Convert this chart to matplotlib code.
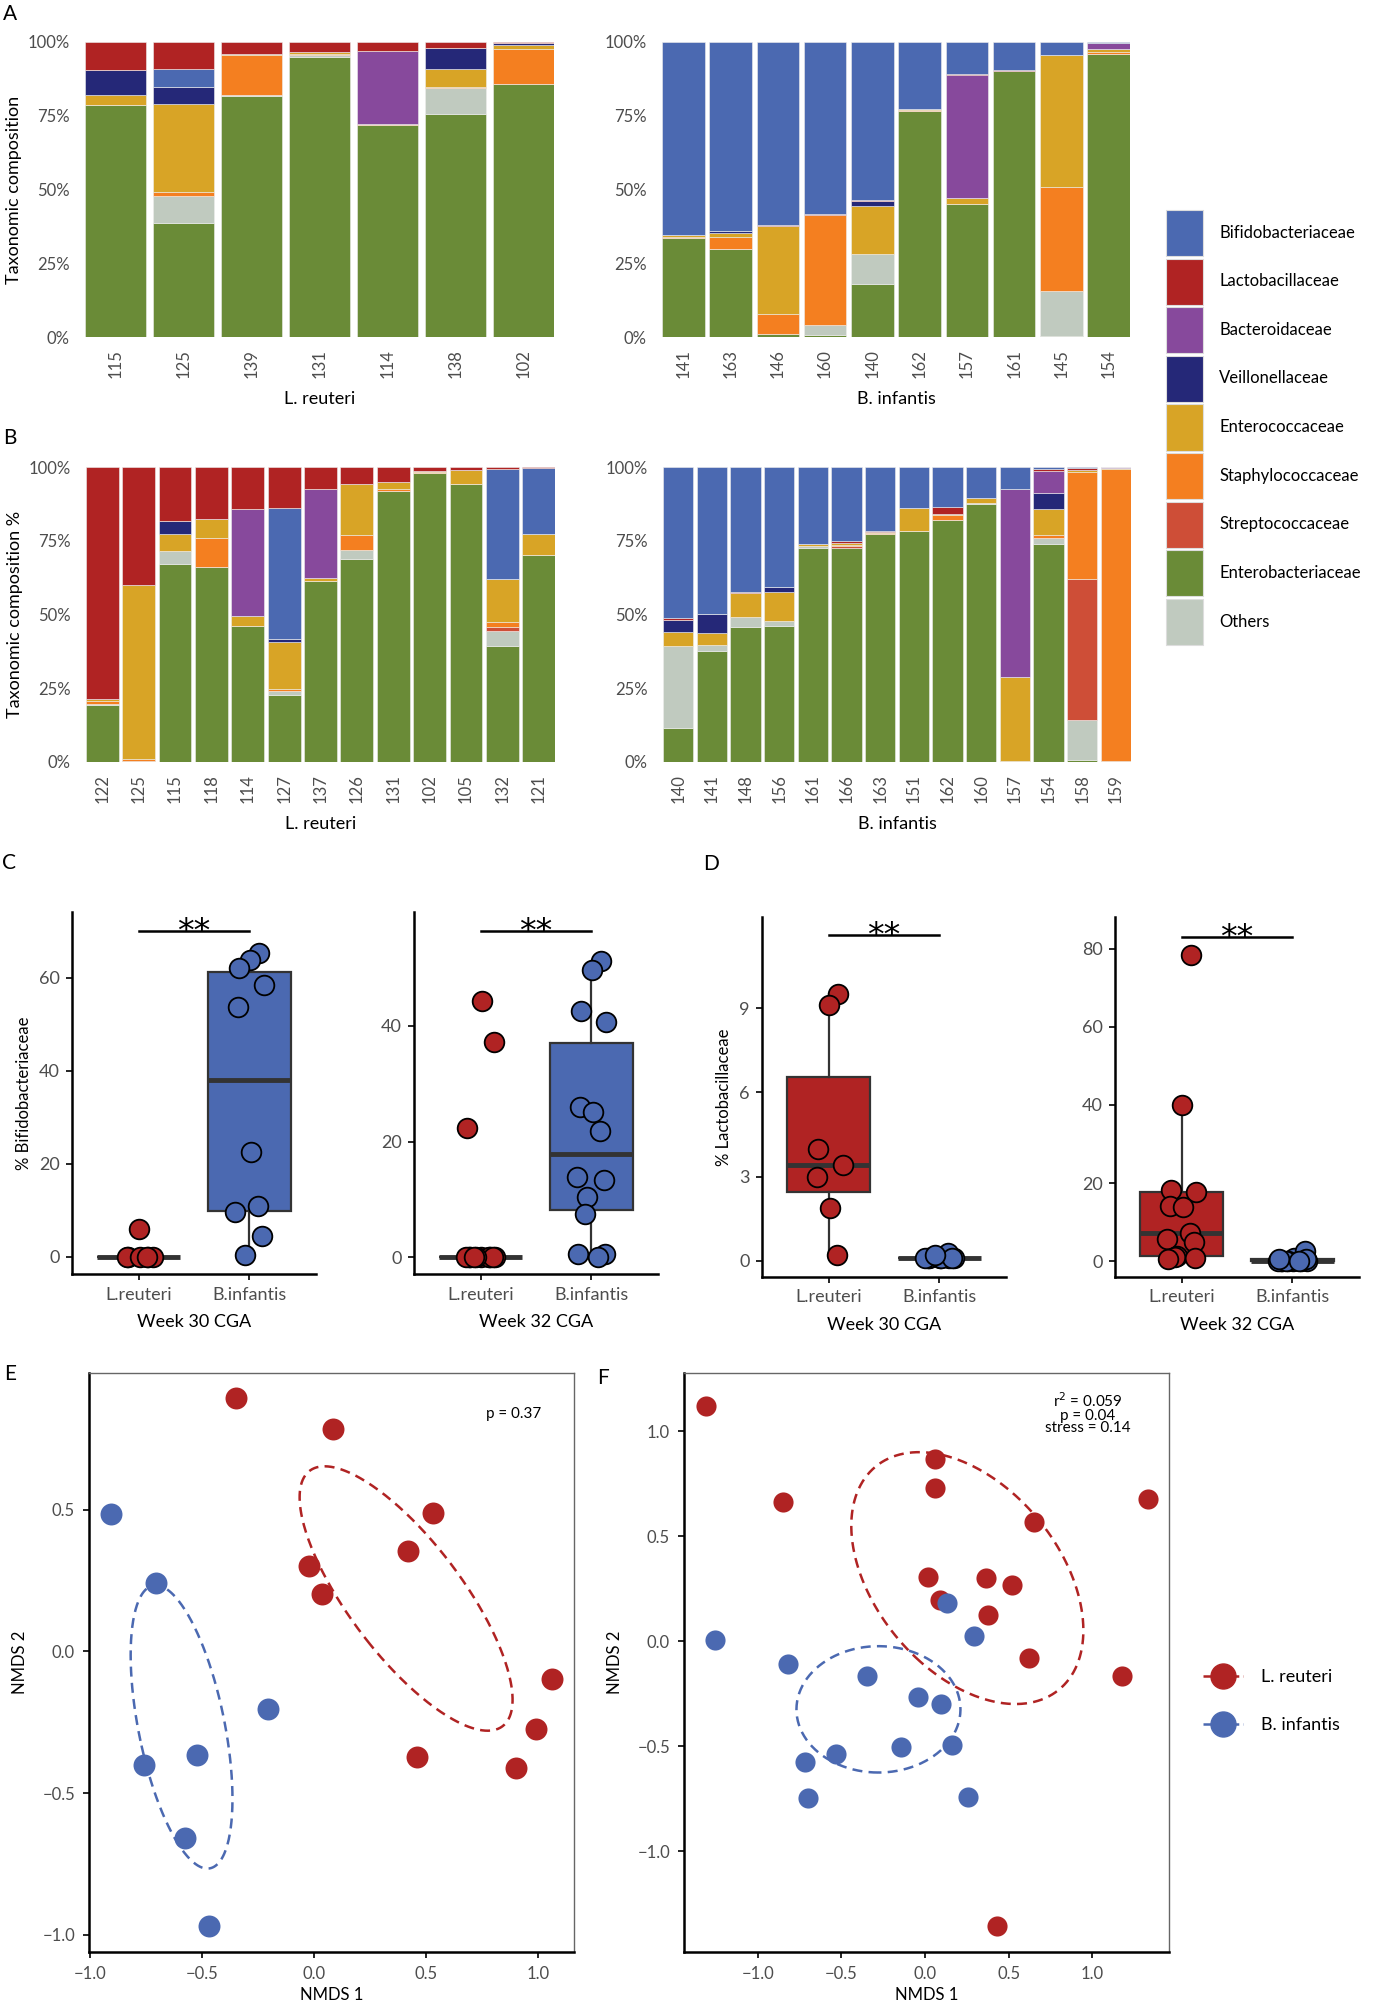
import numpy as np
import matplotlib.pyplot as plt
from matplotlib.patches import Patch
from matplotlib.lines import Line2D

W, H = 1379, 2007
plt.rcParams['font.family'] = ['Lato', 'DejaVu Sans']

# ---------------- data ----------------
families = ["Bifidobacteriaceae", "Lactobacillaceae", "Bacteroidaceae", "Veillonellaceae",
            "Enterococcaceae", "Staphylococcaceae", "Streptococcaceae", "Enterobacteriaceae", "Others"]
fam_colors = ["#4B69B1", "#B02323", "#87499C", "#252878", "#D8A426",
              "#F47F20", "#CE4E37", "#6A8B37", "#C0CABF"]

# stacking order bottom -> top
order_lr = ["Enterobacteriaceae", "Others", "Streptococcaceae", "Staphylococcaceae", "Enterococcaceae",
            "Veillonellaceae", "Bacteroidaceae", "Bifidobacteriaceae", "Lactobacillaceae"]
order_bi = ["Enterobacteriaceae", "Others", "Streptococcaceae", "Staphylococcaceae", "Enterococcaceae",
            "Veillonellaceae", "Bacteroidaceae", "Lactobacillaceae", "Bifidobacteriaceae"]

# A: week 30, rows follow `families`
samples_a_lr = ["115", "125", "139", "131", "114", "138", "102"]
comp_a_lr = np.array([
    [0, 6.0, 0, 0, 0, 0, 0],
    [9.5, 9.1, 4.0, 3.4, 3.0, 1.9, 0.2],
    [0, 0, 0, 0, 24.8, 0, 0],
    [8.6, 5.8, 0, 0, 0, 7.1, 0.7],
    [3.1, 30.1, 0.3, 0.8, 0, 6.2, 1.5],
    [0.3, 1.1, 13.6, 0.3, 0.3, 0.3, 12.0],
    [0, 0, 0, 0, 0, 0, 0],
    [78.5, 38.8, 81.7, 94.8, 71.9, 75.7, 85.6],
    [0, 9.1, 0.4, 0.7, 0, 8.8, 0],
])

samples_a_bi = ["141", "163", "146", "160", "140", "162", "157", "161", "145", "154"]
comp_a_bi = np.array([
    [65.4, 63.9, 62.2, 58.4, 53.7, 22.6, 11.0, 9.6, 4.4, 0.3],
    [0.1, 0.1, 0.1, 0.1, 0.1, 0.1, 0.3, 0.1, 0.1, 0.2],
    [0, 0, 0, 0, 0, 0, 41.5, 0, 0, 2.0],
    [0, 0.9, 0, 0, 1.8, 0, 0, 0, 0, 0],
    [0.5, 1.1, 30.0, 0.3, 16.2, 0.4, 2.0, 0, 44.6, 0.8],
    [0.6, 4.0, 6.8, 37.0, 0, 0.4, 0, 0.2, 35.3, 0.8],
    [0, 0, 0, 0, 0, 0, 0, 0, 0, 0],
    [33.4, 30.0, 0.9, 0.6, 18.0, 76.5, 45.2, 90.1, 0.5, 95.9],
    [0, 0, 0, 3.6, 10.2, 0, 0, 0, 15.1, 0],
])

# B: week 32
samples_b_lr = ["122", "125", "115", "118", "114", "127", "137", "126", "131", "102", "105", "132", "121"]
comp_b_lr = np.array([
    [0, 0, 0, 0, 0, 44.3, 0, 0, 0, 0, 0, 37.2, 22.3],
    [78.5, 39.9, 18.3, 17.7, 14.1, 13.9, 7.3, 5.6, 5.0, 1.2, 1.1, 0.8, 0.5],
    [0, 0, 0, 0, 36.5, 0, 30.3, 0, 0, 0.2, 0, 0, 0],
    [0, 0, 4.3, 0, 0, 1.1, 0, 0, 0, 0, 0, 0, 0],
    [0.9, 59.0, 6.0, 6.3, 3.4, 15.9, 1.0, 17.5, 2.6, 0.4, 4.5, 14.6, 7.1],
    [0.8, 0.8, 0, 9.8, 0, 0.7, 0, 4.9, 0.5, 0.2, 0, 1.6, 0],
    [0, 0, 0, 0, 0, 0, 0, 0, 0, 0, 0, 1.5, 0],
    [19.2, 0.3, 67.0, 66.2, 46.0, 22.6, 61.4, 68.8, 91.9, 98.0, 94.4, 39.2, 70.1],
    [0.6, 0, 4.4, 0, 0, 1.5, 0, 3.2, 0, 0, 0, 5.1, 0],
])

samples_b_bi = ["140", "141", "148", "156", "161", "166", "163", "151", "162", "160", "157", "154", "158", "159"]
comp_b_bi = np.array([
    [51.3, 49.7, 42.5, 40.7, 26.0, 25.2, 21.8, 13.8, 13.4, 10.5, 7.4, 0.6, 0.5, 0.0],
    [0.7, 0.1, 0.1, 0.1, 0.1, 0.7, 0.1, 0.1, 2.5, 0.1, 0.1, 0.6, 0.5, 0.1],
    [0, 0, 0, 0, 0, 0, 0, 0, 0, 0, 63.6, 7.5, 0, 0.3],
    [3.8, 6.6, 0, 1.7, 0, 0, 0, 0, 0, 0, 0, 5.5, 0, 0],
    [5.0, 3.8, 8.1, 9.8, 0.6, 0.5, 0.4, 7.7, 0.3, 1.6, 28.6, 8.9, 0.6, 0.2],
    [0, 0, 0, 0, 0, 0.5, 0.4, 0, 1.9, 0, 0, 0.9, 36.5, 99.0],
    [0, 0, 0, 0, 0, 0.4, 0, 0, 0, 0, 0, 0, 47.5, 0],
    [11.6, 37.5, 45.7, 46.1, 72.4, 72.7, 77.3, 78.4, 81.9, 87.5, 0.3, 74.0, 0.8, 0.4],
    [27.6, 2.3, 3.6, 1.6, 0.9, 0, 0, 0, 0, 0.3, 0, 2.0, 13.6, 0],
])

# E/F: NMDS coordinates
e_lr_x = [-0.35, 0.085, 0.53, 0.419, -0.021, 0.034, 1.065, 0.991, 0.462, 0.903]
e_lr_y = [0.894, 0.787, 0.489, 0.355, 0.301, 0.202, -0.099, -0.275, -0.372, -0.413]
e_bi_x = [-0.906, -0.704, -0.205, -0.521, -0.761, -0.576, -0.467]
e_bi_y = [0.486, 0.242, -0.202, -0.364, -0.401, -0.657, -0.968]

f_lr_x = [-1.31, -0.846, 0.06, 0.06, 0.648, 1.331, 0.015, 0.361, 0.521, 0.087, 0.377, 0.623, 1.175, 0.431]
f_lr_y = [1.121, 0.665, 0.866, 0.73, 0.566, 0.677, 0.305, 0.3, 0.27, 0.195, 0.123, -0.08, -0.165, -1.358]
f_bi_x = [-1.256, -0.819, -0.349, 0.133, 0.295, -0.045, 0.096, -0.145, 0.163, -0.53, -0.717, -0.702, 0.256]
f_bi_y = [0.006, -0.107, -0.163, 0.183, 0.027, -0.265, -0.3, -0.504, -0.492, -0.539, -0.574, -0.745, -0.741]

RED = "#B02323"
BLUE = "#4B69B1"
GREY_TXT = "#4D4D4D"


def add_ax(x0, y0, x1, y1):
    return fig.add_axes([x0 / W, 1 - y1 / H, (x1 - x0) / W, (y1 - y0) / H])


def stacked(ax, samples, comp, order, xlabel, ylabel=None):
    x = np.arange(len(samples))
    bottom = np.zeros(len(samples))
    for fam in order:
        i = families.index(fam)
        ax.bar(x, comp[i], 0.9, bottom=bottom, color=fam_colors[i],
               edgecolor="#eeeeee", linewidth=0.4)
        bottom += comp[i]
    ax.set_xlim(-0.45, len(samples) - 0.55)
    ax.set_ylim(0, 100)
    ax.set_yticks([0, 25, 50, 75, 100], ["0%", "25%", "50%", "75%", "100%"])
    ax.set_xticks(x, samples, rotation=90)
    for s in ax.spines.values():
        s.set_visible(False)
    ax.tick_params(length=0, labelsize=12, labelcolor=GREY_TXT)
    ax.tick_params(axis="x", pad=9)
    ax.tick_params(axis="y", pad=11)
    ax.set_xlabel(xlabel, fontsize=13, labelpad=9)
    if ylabel:
        ax.set_ylabel(ylabel, fontsize=13, labelpad=4)


def boxpanel(ax, lr, bi, ylim, yticks, sig_y, xlabel, ylabel=None):
    bp = ax.boxplot([lr, bi], positions=[1, 2], widths=0.75, patch_artist=True,
                    showfliers=False, whis=1.5,
                    medianprops=dict(color="#333333", lw=3.5),
                    boxprops=dict(edgecolor="#333333", lw=1.6),
                    whiskerprops=dict(color="#333333", lw=1.6),
                    capprops=dict(lw=0))
    for patch, c in zip(bp["boxes"], [RED, BLUE]):
        patch.set_facecolor(c)
    for k, (vals, c) in enumerate([(lr, RED), (bi, BLUE)]):
        vals = np.asarray(vals)
        jit = 0.13 * np.sin(2.4 * np.arange(len(vals)) + 0.7)
        ax.scatter(k + 1 + jit, vals, s=200, color=c, edgecolor="black", lw=1.3, zorder=3)
    ax.plot([1, 2], [sig_y, sig_y], color="black", lw=1.8)
    ax.annotate("**", xy=(1.5, sig_y), xytext=(0, -8), textcoords="offset points",
                ha="center", va="baseline", fontsize=24, family="DejaVu Sans")
    ax.set_xlim(0.4, 2.6)
    ax.set_ylim(*ylim)
    ax.set_yticks(yticks)
    ax.set_xticks([1, 2], ["L.reuteri", "B.infantis"])
    ax.spines[["top", "right"]].set_visible(False)
    ax.spines[["left", "bottom"]].set_linewidth(1.8)
    ax.tick_params(length=4, width=1.2, labelsize=13, labelcolor=GREY_TXT, pad=5)
    ax.set_xlabel(xlabel, fontsize=13, labelpad=8)
    if ylabel:
        ax.set_ylabel(ylabel, fontsize=12, labelpad=5)


def fmt(v):
    return f"{v:.1f}".replace("-", "\u2212")


def ordination(ax, lr, bi, xlim, ylim, xticks, yticks, ms):
    for (x, y), c in [(lr, RED), (bi, BLUE)]:
        x = np.asarray(x)
        y = np.asarray(y)
        cov = np.cov(x, y)
        vals, vecs = np.linalg.eigh(cov)
        t = np.linspace(0, 2 * np.pi, 300)
        circ = np.vstack([np.cos(t), np.sin(t)])
        ell = vecs @ (np.sqrt(vals)[:, None] * circ)
        ax.plot(x.mean() + ell[0], y.mean() + ell[1], color=c, lw=1.8,
                dashes=(4, 2.5), zorder=2)
        ax.scatter(x, y, s=ms, color=c, lw=0, zorder=3)
    ax.set_xlim(*xlim)
    ax.set_ylim(*ylim)
    ax.set_xticks(xticks, [fmt(v) for v in xticks])
    ax.set_yticks(yticks, [fmt(v) for v in yticks])
    ax.spines[["left", "bottom"]].set_linewidth(1.8)
    ax.spines[["top", "right"]].set_linewidth(1.0)
    ax.spines[["top", "right"]].set_color("#666666")
    ax.tick_params(length=4, width=1.2, labelsize=12, labelcolor=GREY_TXT, pad=6)
    ax.set_xlabel("NMDS 1", fontsize=12, labelpad=4)
    ax.set_ylabel("NMDS 2", fontsize=12, labelpad=10)


fig = plt.figure(figsize=(W / 100, H / 100), dpi=100)

# A and B
stacked(add_ax(85, 42, 554, 337), samples_a_lr, comp_a_lr, order_lr, "L. reuteri", "Taxonomic composition")
stacked(add_ax(662, 42, 1130, 337), samples_a_bi, comp_a_bi, order_bi, "B. infantis")
stacked(add_ax(86, 467, 555, 762), samples_b_lr, comp_b_lr, order_lr, "L. reuteri", "Taxonomic composition %")
stacked(add_ax(663, 467, 1131, 762), samples_b_bi, comp_b_bi, order_bi, "B. infantis")

handles = [Patch(facecolor=c, edgecolor="#dddddd", lw=0.8, label=f) for f, c in zip(families, fam_colors)]
fig.legend(handles=handles, loc="upper left", bbox_to_anchor=(1166 / W, 1 - 210 / H),
           frameon=False, fontsize=12, handlelength=2.2, handleheight=3.88,
           labelspacing=0.15, handletextpad=1.0, borderpad=0, borderaxespad=0)

# C and D (derived from the compositions)
ib = families.index("Bifidobacteriaceae")
il = families.index("Lactobacillaceae")
boxpanel(add_ax(72, 912, 316, 1274), comp_a_lr[ib], comp_a_bi[ib], (-3.7, 74.2), [0, 20, 40, 60],
         70.2, "Week 30 CGA", "% Bifidobacteriaceae")
boxpanel(add_ax(414, 912, 658, 1274), comp_b_lr[ib], comp_b_bi[ib], (-2.9, 59.7), [0, 20, 40],
         56.4, "Week 32 CGA")
boxpanel(add_ax(762, 917, 1006, 1277), comp_a_lr[il], comp_a_bi[il], (-0.57, 12.24), [0, 3, 6, 9],
         11.6, "Week 30 CGA", "% Lactobacillaceae")
boxpanel(add_ax(1115, 917, 1359, 1277), comp_b_lr[il], comp_b_bi[il], (-4.1, 88.2), [0, 20, 40, 60, 80],
         83.2, "Week 32 CGA")

# E and F
axE = add_ax(89, 1373, 574, 1952)
ordination(axE, (e_lr_x, e_lr_y), (e_bi_x, e_bi_y), (-1.005, 1.162), (-1.061, 0.983),
           [-1.0, -0.5, 0.0, 0.5, 1.0], [-1.0, -0.5, 0.0, 0.5], 250)
axE.text(0.876, 0.929, "p = 0.37", transform=axE.transAxes, ha="center", va="center", fontsize=11)

axF = add_ax(684, 1373, 1169, 1952)
ordination(axF, (f_lr_x, f_lr_y), (f_bi_x, f_bi_y), (-1.44, 1.457), (-1.48, 1.278),
           [-1.0, -0.5, 0.0, 0.5, 1.0], [-1.0, -0.5, 0.0, 0.5, 1.0], 210)
axF.text(0.833, 0.968, "r$^2$ = 0.059\np = 0.04\nstress = 0.14", transform=axF.transAxes,
         ha="center", va="top", fontsize=11, linespacing=0.85)

leg_h = [Line2D([0], [0], color=RED, lw=1.8, ls="--", marker="o", ms=18, label="L. reuteri"),
         Line2D([0], [0], color=BLUE, lw=1.8, ls="--", marker="o", ms=18, label="B. infantis")]
fig.legend(handles=leg_h, loc="upper left", bbox_to_anchor=(1203 / W, 1 - 1669 / H), frameon=False,
           fontsize=13, handlelength=2.2, labelspacing=1.8, handletextpad=1.0,
           borderpad=0, borderaxespad=0)

# panel letters
for letter, (px, py) in {"A": (3, 4), "B": (3, 428), "C": (2, 853), "D": (703, 854),
                         "E": (4, 1364), "F": (597, 1368)}.items():
    fig.text(px / W, 1 - py / H, letter, fontsize=15, va="top", ha="left")

fig.savefig("out.png", dpi=100)
